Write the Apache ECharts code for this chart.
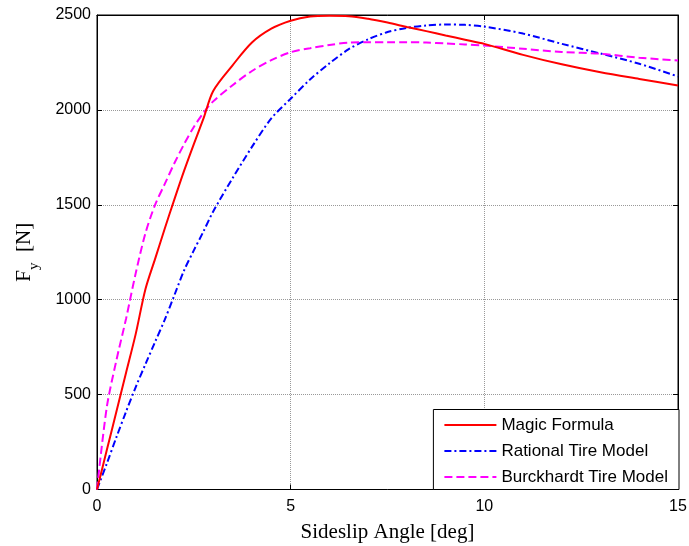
<!DOCTYPE html>
<html>
<head>
<meta charset="utf-8">
<script src="https://cdn.jsdelivr.net/npm/echarts@6/dist/echarts.min.js"></script>
<style>
html,body{margin:0;padding:0;background:#fff;}
#c{width:689px;height:546px;}
</style>
</head>
<body>
<div id="c"></div>
<script>
// Sideslip angle samples [deg]
const angles = [0,0.25,0.5,0.75,1,1.25,1.5,1.75,2,2.25,2.5,2.75,3,3.5,4,4.5,5,5.5,6,6.5,7,7.5,8,8.5,9,9.5,10,11,12,13,14,15];
// Lateral force Fy [N]
const magicFormula = [0,205,410,615,820,1055,1215,1375,1530,1680,1820,1955,2100,2235,2355,2428,2470,2492,2496,2494,2480,2460,2437,2415,2392,2370,2348,2290,2240,2198,2163,2129];
const rationalTire = [0,135,275,410,540,660,778,895,1025,1155,1260,1360,1465,1640,1805,1955,2059,2160,2245,2320,2372,2410,2432,2445,2450,2448,2439,2402,2348,2297,2243,2176];
const burckhardtTire = [0,430,680,900,1140,1350,1500,1610,1720,1820,1910,1985,2045,2130,2205,2262,2304,2325,2342,2355,2357,2357,2357,2355,2350,2345,2339,2322,2305,2296,2275,2260];
const seriesNames = ['Magic Formula','Rational Tire Model','Burckhardt Tire Model'];
const xTicks = [0,5,10,15];
const yTicks = [0,500,1000,1500,2000,2500];

const pairs = ys => angles.map((x,i)=>[x, ys[i]]);
const tickFont = {fontFamily:'Liberation Sans, Arial, sans-serif', fontSize:16, color:'#000', formatter: v => String(v)};

const chart = echarts.init(document.getElementById('c'), null, {renderer:'canvas'});
const baseX = {type:'value', min:xTicks[0], max:xTicks[xTicks.length-1], interval:xTicks[1]-xTicks[0]};
const baseY = {type:'value', min:yTicks[0], max:yTicks[yTicks.length-1], interval:yTicks[1]-yTicks[0]};
chart.setOption({
  animation:false,
  backgroundColor:'#fff',
  grid:{left:97, right:11, top:15, bottom:56.5, show:true, borderColor:'#000', borderWidth:1, backgroundColor:'transparent', containLabel:false, outerBoundsMode:'none'},
  xAxis:[
    Object.assign({}, baseX, {
      position:'bottom',
      name:'Sideslip Angle [deg]', nameLocation:'middle', nameGap:32,
      nameTextStyle:{fontFamily:'Liberation Serif, Times New Roman, serif', fontSize:21, color:'#000'},
      axisLine:{show:true, onZero:false, lineStyle:{color:'#000', width:1}},
      axisTick:{show:true, inside:true, length:5, lineStyle:{color:'#000'}},
      axisLabel:Object.assign({margin:9}, tickFont),
      splitLine:{show:true, lineStyle:{color:'#999', type:[1,1], width:1}}
    }),
    Object.assign({}, baseX, {
      position:'top',
      axisLine:{show:true, onZero:false, lineStyle:{color:'#000', width:1}},
      axisTick:{show:true, inside:true, length:5, lineStyle:{color:'#000'}},
      axisLabel:{show:false}, splitLine:{show:false}
    })
  ],
  yAxis:[
    Object.assign({}, baseY, {
      position:'left',
      name:'{f|F}{s|y}{f|  [N]}', nameLocation:'middle', nameGap:55, nameRotate:90,
      nameTextStyle:{
        color:'#000',
        rich:{
          f:{fontFamily:'Liberation Serif, Times New Roman, serif', fontSize:21, lineHeight:28, verticalAlign:'top', color:'#000'},
          s:{fontFamily:'Liberation Serif, Times New Roman, serif', fontSize:15, lineHeight:15, verticalAlign:'bottom', color:'#000'}
        }
      },
      axisLine:{show:true, onZero:false, lineStyle:{color:'#000', width:1}},
      axisTick:{show:true, inside:true, length:5, lineStyle:{color:'#000'}},
      axisLabel:Object.assign({margin:6}, tickFont),
      splitLine:{show:true, lineStyle:{color:'#999', type:[1,1], width:1}}
    }),
    Object.assign({}, baseY, {
      position:'right',
      axisLine:{show:true, onZero:false, lineStyle:{color:'#000', width:1}},
      axisTick:{show:true, inside:true, length:5, lineStyle:{color:'#000'}},
      axisLabel:{show:false}, splitLine:{show:false}
    })
  ],
  legend:{
    orient:'vertical', right:10, bottom:56.5,
    data:seriesNames,
    backgroundColor:'#fff', borderColor:'#000', borderWidth:1, borderRadius:0,
    padding:[7,11,4,10], itemGap:9, itemWidth:52, itemHeight:14,
    itemStyle:{opacity:0},
    lineStyle:{opacity:1},
    textStyle:{fontFamily:'Liberation Sans, Arial, sans-serif', fontSize:17, color:'#000', lineHeight:17}
  },
  series:[
    {name:seriesNames[0], type:'line', data:pairs(magicFormula), symbol:'none', smooth:0.3,
     lineStyle:{color:'#ff0000', width:2, type:'solid'}, itemStyle:{color:'#ff0000'}, z:3},
    {name:seriesNames[1], type:'line', data:pairs(rationalTire), symbol:'none', smooth:0.3,
     lineStyle:{color:'#0000ff', width:2, type:[7,3,2,3]}, itemStyle:{color:'#0000ff'}, z:2},
    {name:seriesNames[2], type:'line', data:pairs(burckhardtTire), symbol:'none', smooth:0.3,
     lineStyle:{color:'#ff00ff', width:2, type:[8,4]}, itemStyle:{color:'#ff00ff'}, z:2}
  ]
});
</script>
</body>
</html>
